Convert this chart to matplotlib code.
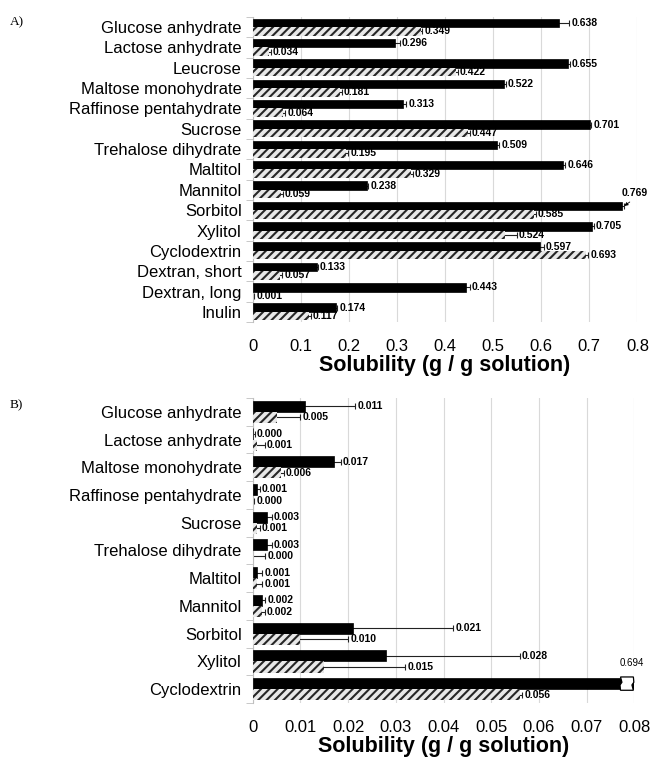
import matplotlib
matplotlib.use("Agg")
import matplotlib.pyplot as plt
import matplotlib.patches as mpatches
import numpy as np

plt.rcParams["font.family"] = ["Liberation Sans", "DejaVu Sans"]
plt.rcParams["hatch.linewidth"] = 1.5

# Painel A
cat_a = ["Glucose anhydrate", "Lactose anhydrate", "Leucrose", "Maltose monohydrate",
         "Raffinose pentahydrate", "Sucrose", "Trehalose dihydrate", "Maltitol",
         "Mannitol", "Sorbitol", "Xylitol", "Cyclodextrin", "Dextran, short",
         "Dextran, long", "Inulin"]
preto_a = [0.638, 0.296, 0.655, 0.522, 0.313, 0.701, 0.509, 0.646,
           0.238, 0.769, 0.705, 0.597, 0.133, 0.443, 0.174]
erro_preto_a = [0.020, 0.010, 0.004, 0.004, 0.006, 0.003, 0.004, 0.004,
                0.002, 0.004, 0.004, 0.008, 0.002, 0.008, 0.002]
hach_a = [0.349, 0.034, 0.422, 0.181, 0.064, 0.447, 0.195, 0.329,
          0.059, 0.585, 0.524, 0.693, 0.057, 0.001, 0.117]
erro_hach_a = [0.004, 0.004, 0.004, 0.004, 0.004, 0.004, 0.004, 0.004,
               0.004, 0.004, 0.025, 0.005, 0.004, 0.002, 0.004]

# Painel B
cat_b = ["Glucose anhydrate", "Lactose anhydrate", "Maltose monohydrate",
         "Raffinose pentahydrate", "Sucrose", "Trehalose dihydrate", "Maltitol",
         "Mannitol", "Sorbitol", "Xylitol", "Cyclodextrin"]
preto_b = [0.011, 0.000, 0.017, 0.001, 0.003, 0.003, 0.001, 0.002, 0.021, 0.028, 0.694]
erro_preto_b = [0.0105, 0.0004, 0.0015, 0.0005, 0.001, 0.001, 0.001, 0.0006,
                0.021, 0.028, 0.0]
hach_b = [0.005, 0.001, 0.006, 0.000, 0.001, 0.000, 0.001, 0.002, 0.010, 0.015, 0.056]
erro_hach_b = [0.005, 0.0015, 0.0005, 0.0003, 0.0005, 0.0026, 0.001, 0.0005,
               0.010, 0.017, 0.0005]

COR_GRADE = "#d9d9d9"
COR_HACH = "#262626"


def painel(ax, cats, preto, e_preto, hach, e_hach, xmax, passo, h, sep):
    n = len(cats)
    y = np.arange(n)[::-1].astype(float)
    ax.set_xlim(0, xmax)
    ax.set_ylim(-0.5, n - 0.5)

    ax.barh(y + sep, preto, height=h, color="black", edgecolor="black",
            linewidth=0.5, zorder=3)
    ax.barh(y - sep, hach, height=h, color="#e8e8e8", edgecolor=COR_HACH,
            hatch="////", linewidth=0.0, zorder=3)
    ax.errorbar(preto, y + sep, xerr=e_preto, fmt="none", ecolor="#222222",
                elinewidth=0.8, capsize=2, capthick=0.8, zorder=2)
    ax.errorbar(hach, y - sep, xerr=e_hach, fmt="none", ecolor="#222222",
                elinewidth=0.8, capsize=2, capthick=0.8, zorder=2)

    ticks = np.arange(0, xmax + passo / 2, passo)
    ax.set_xticks(ticks)
    ax.set_xticklabels([f"{v:g}" for v in ticks], fontsize=12)
    ax.tick_params(axis="x", length=0, pad=12)
    ax.set_yticks(y)
    ax.set_yticklabels(cats, fontsize=12)
    ax.tick_params(axis="y", length=0, pad=8)
    ax.set_yticks(np.arange(n + 1) - 0.5, minor=True)
    ax.tick_params(axis="y", which="minor", length=5, color="#bfbfbf")
    ax.grid(axis="x", color=COR_GRADE, linewidth=0.8, zorder=0)
    ax.set_axisbelow(True)
    for lado in ["top", "right", "bottom"]:
        ax.spines[lado].set_visible(False)
    ax.spines["left"].set_color("#bfbfbf")
    ax.set_xlabel("Solubility (g / g solution)", fontsize=15.5,
                  weight="bold", labelpad=1)
    return y


def rotulo(ax, x, y, v):
    ax.annotate(f"{v:.3f}", xy=(x, y), xytext=(1.5, 0), textcoords="offset points",
                ha="left", va="center", fontsize=7.5, weight="bold", zorder=5)


fig = plt.figure(figsize=(6.52, 7.57), dpi=100)
ax_a = fig.add_axes([0.3876, 0.5746, 0.590, 0.403])
ax_b = fig.add_axes([0.3876, 0.0713, 0.5853, 0.403])

ya = painel(ax_a, cat_a, preto_a, erro_preto_a, hach_a, erro_hach_a, 0.8, 0.1, 0.42, 0.21)
for i, yy in enumerate(ya):
    if cat_a[i] == "Sorbitol":
        ax_a.annotate(f"{preto_a[i]:.3f}", xy=(preto_a[i] + erro_preto_a[i], yy + 0.21),
                      xytext=(-2, 9), textcoords="offset points", ha="left", va="center",
                      fontsize=7.5, weight="bold",
                      arrowprops=dict(arrowstyle="-|>", color="black", lw=0.6,
                                      mutation_scale=5, shrinkA=1, shrinkB=0,
                                      relpos=(0.5, 0.0)))
    else:
        rotulo(ax_a, preto_a[i] + erro_preto_a[i], yy + 0.21, preto_a[i])
    rotulo(ax_a, hach_a[i] + erro_hach_a[i], yy - 0.21, hach_a[i])

yb = painel(ax_b, cat_b, preto_b, erro_preto_b, hach_b, erro_hach_b, 0.08, 0.01, 0.40, 0.20)
xmax_b = ax_b.get_xlim()[1]
for i, yy in enumerate(yb):
    if preto_b[i] > xmax_b:
        # barra cortada: marca de quebra e rótulo acima
        yc = yy + 0.20
        xs = [0.0771, 0.0798, 0.0795, 0.0799, 0.0798, 0.0771, 0.0774, 0.0770]
        ys = [yc - 0.24, yc - 0.24, yc - 0.05, yc + 0.05, yc + 0.24, yc + 0.24,
              yc + 0.05, yc - 0.05]
        ax_b.add_patch(mpatches.Polygon(list(zip(xs, ys)), closed=True,
                                        facecolor="white", edgecolor="black",
                                        linewidth=0.9, zorder=4, clip_on=False))
        ax_b.annotate(f"{preto_b[i]:.3f}", xy=(xmax_b, yc), xytext=(-2, 11),
                      textcoords="offset points", ha="center", va="bottom",
                      fontsize=7, zorder=5, annotation_clip=False)
    else:
        rotulo(ax_b, preto_b[i] + erro_preto_b[i], yy + 0.20, preto_b[i])
    rotulo(ax_b, hach_b[i] + erro_hach_b[i], yy - 0.20, hach_b[i])

fig.text(0.015, 0.978, "A)", family="Liberation Serif", fontsize=9.5, va="top")
fig.text(0.015, 0.472, "B)", family="Liberation Serif", fontsize=9.5, va="top")

fig.savefig("out.png", dpi=100)
